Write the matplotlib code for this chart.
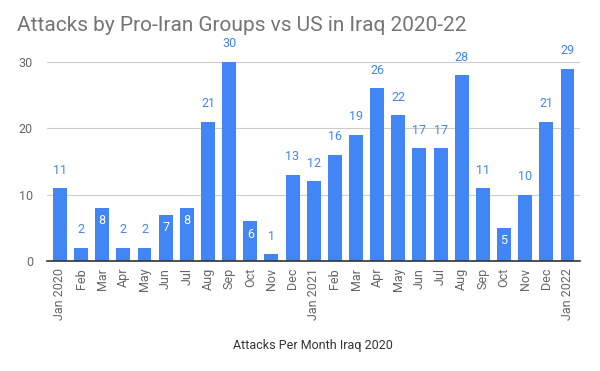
import matplotlib
matplotlib.use('Agg')
import matplotlib.pyplot as plt

plt.rcParams['font.family'] = ['Roboto', 'DejaVu Sans']

# Monthly attack counts, Jan 2020 - Jan 2022
months = ['Jan 2020', 'Feb', 'Mar', 'Apr', 'May', 'Jun', 'Jul', 'Aug', 'Sep', 'Oct', 'Nov', 'Dec',
          'Jan 2021', 'Feb', 'Mar', 'Apr', 'May', 'Jun', 'Jul', 'Aug', 'Sep', 'Oct', 'Nov', 'Dec',
          'Jan 2022']
attacks = [11, 2, 8, 2, 2, 7, 8, 21, 30, 6, 1, 13,
           12, 16, 19, 26, 22, 17, 17, 28, 11, 5, 10, 21,
           29]
yticks = [0, 10, 20, 30]

BLUE = '#4285F4'

fig = plt.figure(figsize=(6, 3.71), dpi=100)
ax = fig.add_axes([0.078, 0.2965, 0.889, 0.5365])

x = list(range(len(attacks)))
ax.bar(x, attacks, width=0.66, color=BLUE, zorder=3)

# value labels: sheets puts the mid-sized ones inside the bar
for xi, v in zip(x, attacks):
    if 5 <= v <= 8:
        ax.annotate(str(v), (xi, v), xytext=(0, -13), textcoords='offset pixels',
                    ha='center', va='center', color='white', fontsize=9, zorder=4)
    else:
        ax.annotate(str(v), (xi, v), xytext=(0, 18), textcoords='offset pixels',
                    ha='center', va='center', color=BLUE, fontsize=9, zorder=4,
                    annotation_clip=False)

ax.set_xlim(-0.62, len(attacks) - 0.4)
ax.set_ylim(0, 30)
ax.set_yticks(yticks)
ax.set_xticks(x)
ax.set_xticklabels(months, rotation=90, fontsize=9, color='#666666')
ax.tick_params(axis='y', labelsize=9, labelcolor='#666666', length=0, pad=10)
ax.tick_params(axis='x', length=0, pad=5)
ax.grid(axis='y', color='#cccccc', linewidth=0.8, zorder=0)
for s in ['top', 'right', 'left']:
    ax.spines[s].set_visible(False)
ax.spines['bottom'].set_color('#333333')
ax.spines['bottom'].set_linewidth(1.2)
ax.spines['bottom'].set_zorder(5)

fig.text(0.028, 0.93, 'Attacks by Pro-Iran Groups vs US in Iraq 2020-22',
         fontsize=15, color='#757575', ha='left', va='center')
fig.text(0.522, 0.07, 'Attacks Per Month Iraq 2020', fontsize=9, color='#333333',
         ha='center', va='center')

fig.savefig('out.png', dpi=100)
